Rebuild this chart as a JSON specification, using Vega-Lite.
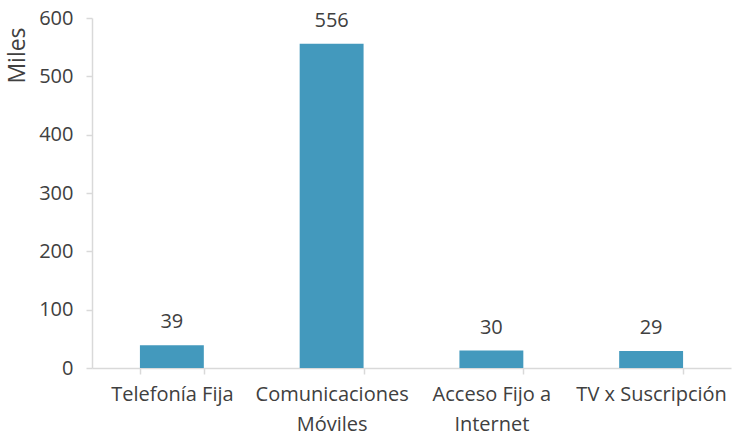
{
  "$schema": "https://vega.github.io/schema/vega-lite/v6.json",
  "width": 639,
  "height": 350,
  "autosize": {"type": "none"},
  "padding": {"left": 92, "top": 18, "right": 1, "bottom": 72},
  "background": "white",
  "config": {"view": {"stroke": null}, "font": "Open Sans"},
  "data": {
    "values": [
      {"cat": "Telefonía Fija", "v": 39},
      {"cat": "Comunicaciones|Móviles", "v": 556},
      {"cat": "Acceso Fijo a|Internet", "v": 30},
      {"cat": "TV x Suscripción", "v": 29}
    ]
  },
  "encoding": {
    "x": {
      "field": "cat", "type": "nominal", "sort": null,
      "scale": {"paddingInner": 0.6, "paddingOuter": 0.3},
      "axis": {
        "title": null, "labelAngle": 0, "labelExpr": "split(datum.label, '|')",
        "labelFontSize": 20, "labelColor": "#404040", "labelFont": "Open Sans",
        "labelLineHeight": 30, "labelPadding": 10, "labelBaseline": "top",
        "domainColor": "#d9d9d9", "domainWidth": 1.5, "tickColor": "#d9d9d9", "tickWidth": 1.5,
        "tickSize": 6, "tickBand": "extent"
      }
    },
    "y": {
      "field": "v", "type": "quantitative",
      "scale": {"domain": [0, 600], "nice": false},
      "axis": {
        "title": "Miles", "titleFontSize": 23, "titleFontWeight": "normal", "titleColor": "#404040",
        "titleX": -75, "titleY": 37, "titleAlign": "center", "titleBaseline": "middle", "titleAngle": -90,
        "values": [0, 100, 200, 300, 400, 500, 600],
        "grid": false, "labelFontSize": 20, "labelColor": "#404040", "labelPadding": 13,
        "domainColor": "#d9d9d9", "domainWidth": 1.5, "tickColor": "#d9d9d9", "tickWidth": 1.5, "tickSize": 6
      }
    }
  },
  "layer": [
    {"mark": {"type": "bar", "color": "#4399BD"}},
    {
      "mark": {"type": "text", "dy": -17, "baseline": "alphabetic", "fontSize": 20, "color": "#404040"},
      "encoding": {"text": {"field": "v", "type": "quantitative"}}
    }
  ]
}
